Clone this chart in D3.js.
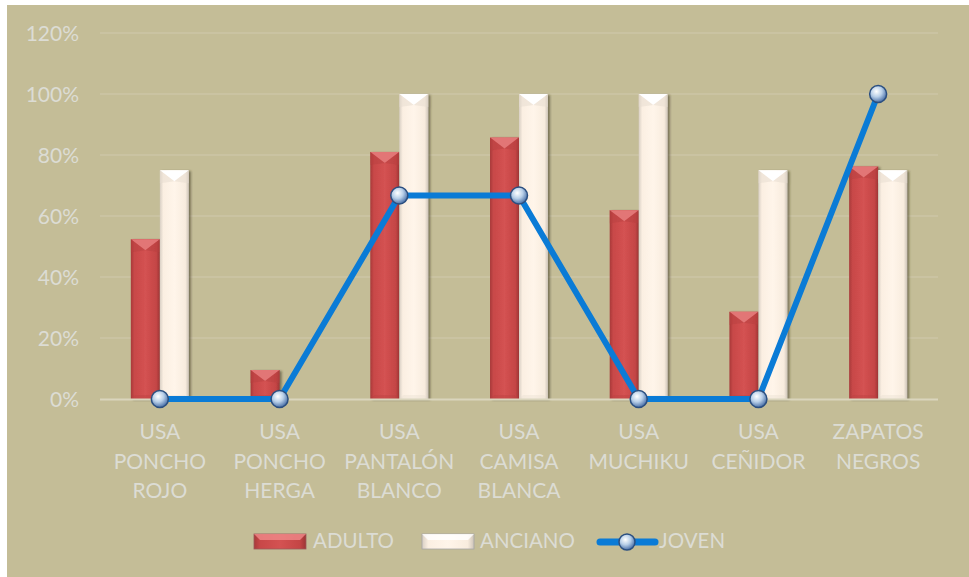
<!DOCTYPE html>
<html>
<head>
<meta charset="utf-8">
<script src="https://cdn.jsdelivr.net/npm/d3@7"></script>
<style>
  html, body { margin: 0; padding: 0; background: #ffffff; }
  svg { display: block; }
  text { font-family: Lato, "Open Sans", sans-serif; fill: #dcdcd4; }
</style>
</head>
<body>
<svg id="chart" width="969" height="577"></svg>
<script>
// ---- data ----
const categories = [
  ["USA", "PONCHO", "ROJO"],
  ["USA", "PONCHO", "HERGA"],
  ["USA", "PANTALÓN", "BLANCO"],
  ["USA", "CAMISA", "BLANCA"],
  ["USA", "MUCHIKU"],
  ["USA", "CEÑIDOR"],
  ["ZAPATOS", "NEGROS"]
];
const adulto  = [0.524, 0.095, 0.81, 0.857, 0.619, 0.286, 0.762];
const anciano = [0.75, 0, 1.0, 1.0, 1.0, 0.75, 0.75];
const joven   = [0, 0, 0.667, 0.667, 0, 0, 1.0];
const yTicks  = [0, 0.2, 0.4, 0.6, 0.8, 1.0, 1.2];
const seriesNames = ["ADULTO", "ANCIANO", "JOVEN"];

// ---- layout ----
const svg = d3.select("#chart");
const W = 969, H = 577;
const plot = { left: 100, right: 938, top: 33, bottom: 399 };

svg.append("rect").attr("x", 7).attr("y", 5).attr("width", W - 7).attr("height", H - 5).attr("fill", "#c4bd97");

const defs = svg.append("defs");
function hGrad(id, stops) {
  const g = defs.append("linearGradient").attr("id", id).attr("x1", "0").attr("x2", "1").attr("y1", "0").attr("y2", "0");
  stops.forEach(s => g.append("stop").attr("offset", s[0]).attr("stop-color", s[1]));
}
hGrad("gAd", [[0, "#a83a3a"], [0.12, "#c84848"], [0.5, "#d45252"], [0.88, "#c44545"], [1, "#9c3535"]]);
hGrad("gAn", [[0, "#d8cfc4"], [0.12, "#fbefe2"], [0.5, "#fff5ea"], [0.88, "#f8ecde"], [1, "#cdc4b8"]]);
const rg = defs.append("radialGradient").attr("id", "gMk").attr("cx", "0.4").attr("cy", "0.35").attr("r", "0.65");
rg.append("stop").attr("offset", 0).attr("stop-color", "#ffffff");
rg.append("stop").attr("offset", 0.5).attr("stop-color", "#b8cfe8");
rg.append("stop").attr("offset", 1).attr("stop-color", "#4a70a8");
const sh = defs.append("filter").attr("id", "shadow").attr("x", "-20%").attr("y", "-5%").attr("width", "150%").attr("height", "115%");
sh.append("feDropShadow").attr("dx", 2).attr("dy", 1).attr("stdDeviation", 1.2).attr("flood-color", "#3a3520").attr("flood-opacity", 0.55);

const x = d3.scaleBand().domain(d3.range(categories.length)).range([plot.left, plot.right]).paddingInner(0).paddingOuter(0);
const y = d3.scaleLinear().domain([0, 1.2]).range([plot.bottom, plot.top]);
const barW = 29;

// gridlines
svg.append("g").selectAll("line").data(yTicks.filter(t => t > 0)).join("line")
  .attr("x1", plot.left).attr("x2", plot.right)
  .attr("y1", d => y(d)).attr("y2", d => y(d))
  .attr("stroke", "#cdc6a6").attr("stroke-width", 1.3);

// y axis labels
const yAxis = d3.axisLeft(y).tickValues(yTicks).tickFormat(d3.format(".0%")).tickSize(0).tickPadding(0);
const ya = svg.append("g").attr("transform", "translate(79,0)").call(yAxis);
ya.select(".domain").remove();
ya.selectAll("text").attr("font-size", 21).style("font-family", "Lato, sans-serif").attr("fill", "#dcdcd4").attr("dy", "0.35em");

// bars
function drawBar(g, x0, val, fillId, topLight, topDark) {
  if (val <= 0) return;
  const yt = y(val), h = plot.bottom - yt;
  const b = g.append("g").attr("filter", "url(#shadow)");
  b.append("rect").attr("x", x0).attr("y", yt).attr("width", barW).attr("height", h).attr("fill", `url(#${fillId})`);
  const bev = Math.min(11, h / 2);
  // top bevel
  b.append("path").attr("d", `M${x0},${yt} L${x0 + barW},${yt} L${x0 + barW / 2},${yt + bev} Z`).attr("fill", topLight);
  b.append("path").attr("d", `M${x0},${yt} L${x0 + barW / 2},${yt + bev} L${x0},${yt + bev + 2} Z`).attr("fill", topDark).attr("opacity", 0.5);
  b.append("path").attr("d", `M${x0 + barW},${yt} L${x0 + barW / 2},${yt + bev} L${x0 + barW},${yt + bev + 2} Z`).attr("fill", topDark).attr("opacity", 0.5);
  // bottom bevel
  b.append("path").attr("d", `M${x0},${plot.bottom} L${x0 + barW},${plot.bottom} L${x0 + barW - 4},${plot.bottom - 4} L${x0 + 4},${plot.bottom - 4} Z`).attr("fill", topDark).attr("opacity", 0.35);
}
const barsG = svg.append("g");
categories.forEach((c, i) => {
  const cx = x(i) + x.bandwidth() / 2;
  drawBar(barsG, cx - barW, adulto[i], "gAd", "#e27676", "#b84040");
  drawBar(barsG, cx, anciano[i], "gAn", "#ffffff", "#e6dccf");
});

// baseline
svg.append("line").attr("x1", plot.left).attr("x2", plot.right).attr("y1", plot.bottom + 0.5).attr("y2", plot.bottom + 0.5)
  .attr("stroke", "#dad5bd").attr("stroke-width", 2);

// line series
const line = d3.line().x((d, i) => x(i) + x.bandwidth() / 2).y(d => y(d));
svg.append("path").datum(joven).attr("d", line).attr("fill", "none").attr("stroke", "#0a7bd6").attr("stroke-width", 6).attr("stroke-linejoin", "miter");
svg.append("g").selectAll("circle").data(joven).join("circle")
  .attr("cx", (d, i) => x(i) + x.bandwidth() / 2).attr("cy", d => y(d)).attr("r", 8.5)
  .attr("fill", "url(#gMk)").attr("stroke", "#2b4f80").attr("stroke-width", 1.5);

// category labels
const xl = svg.append("g");
categories.forEach((lines, i) => {
  const t = xl.append("text").attr("x", x(i) + x.bandwidth() / 2).attr("text-anchor", "middle").attr("font-size", 21);
  lines.forEach((ln, j) => t.append("tspan").attr("x", x(i) + x.bandwidth() / 2).attr("y", 439 + j * 29.5).text(ln));
});

// legend
const lg = svg.append("g");
const lgY = 541;
function legendBar(x0, fillId, light) {
  lg.append("rect").attr("x", x0).attr("y", lgY - 7).attr("width", 52).attr("height", 15).attr("fill", `url(#${fillId})`).attr("stroke", d3.color(light).darker(1.2)).attr("stroke-width", 0.8);
  lg.append("path").attr("d", `M${x0},${lgY - 7} L${x0 + 52},${lgY - 7} L${x0 + 46},${lgY - 1} L${x0 + 6},${lgY - 1} Z`).attr("fill", light).attr("opacity", 0.8);
}
legendBar(254, "gAd", "#f08a8a");
lg.append("text").attr("x", 313).attr("y", lgY).attr("dy", "0.35em").attr("font-size", 20.5).text(seriesNames[0]);
legendBar(422, "gAn", "#ffffff");
lg.append("text").attr("x", 480).attr("y", lgY).attr("dy", "0.35em").attr("font-size", 20.5).text(seriesNames[1]);
lg.append("line").attr("x1", 600).attr("x2", 655).attr("y1", lgY + 1).attr("y2", lgY + 1).attr("stroke", "#0a7bd6").attr("stroke-width", 7).attr("stroke-linecap", "round");
lg.append("circle").attr("cx", 627).attr("cy", lgY + 1).attr("r", 8).attr("fill", "url(#gMk)").attr("stroke", "#2b4f80").attr("stroke-width", 1.5);
lg.append("text").attr("x", 659).attr("y", lgY).attr("dy", "0.35em").attr("font-size", 20.5).text(seriesNames[2]);
</script>
</body>
</html>
